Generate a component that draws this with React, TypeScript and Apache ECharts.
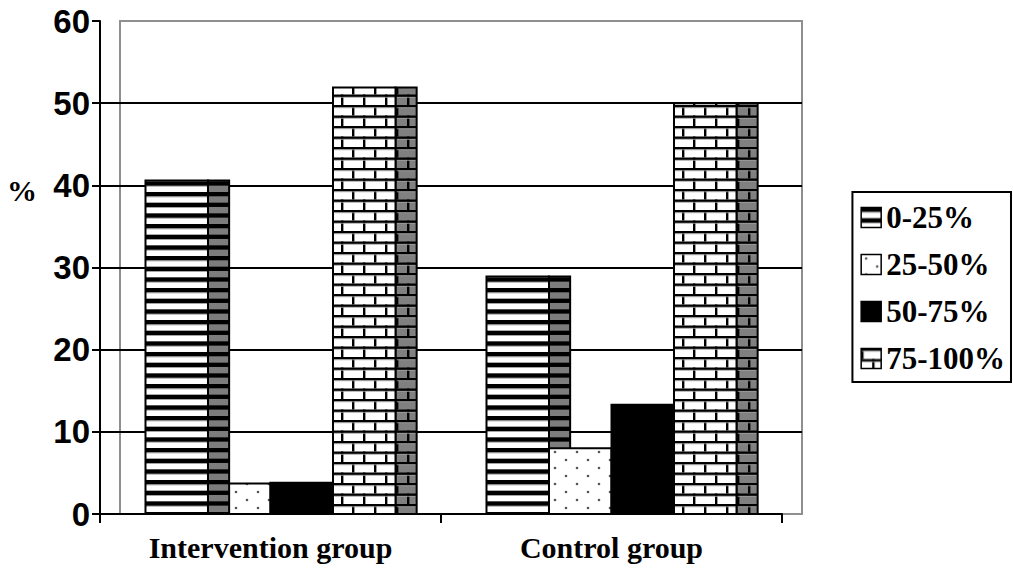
import React, { useEffect, useRef } from "react";
import * as echarts from "echarts";

const categories = ["Intervention group", "Control group"];
const seriesNames = ["0-25%", "25-50%", "50-75%", "75-100%"];
const values0to25 = [40.6, 28.9];
const values25to50 = [3.7, 8.0];
const values50to75 = [3.8, 13.3];
const values75to100 = [51.9, 50.0];
const allValues = [values0to25, values25to50, values50to75, values75to100];
const yMin = 0;
const yMax = 60;
const yInterval = 10;
// whether a taller bar's side face is drawn over the next bar, per category
const SIDE_OVER_NEXT = [true, false];

const SLOT_RATIO = 0.1833;
const DEPTH_RATIO = 0.062;
const SERIF = '"Liberation Serif", "Times New Roman", serif';
const SANS = '"Liberation Sans", Arial, sans-serif';

function makeCanvas(w: number, h: number, draw: (ctx: CanvasRenderingContext2D) => void) {
  const c = document.createElement("canvas");
  c.width = w;
  c.height = h;
  const ctx = c.getContext("2d")!;
  draw(ctx);
  return c;
}

function buildPatterns() {
  const period = 32 / 3;
  const stripeFront = makeCanvas(4, 32, (ctx) => {
    ctx.fillStyle = "#fff";
    ctx.fillRect(0, 0, 4, 32);
    ctx.fillStyle = "#000";
    for (let k = 0; k < 3; k++) ctx.fillRect(0, k * period, 4, 4.5);
    ctx.fillStyle = "#9a9a9a";
    for (let k = 0; k < 3; k++) ctx.fillRect(0, k * period + 4.5, 4, 0.8);
  });
  const stripeSide = makeCanvas(4, 32, (ctx) => {
    ctx.fillStyle = "#7d7d7d";
    ctx.fillRect(0, 0, 4, 32);
    ctx.fillStyle = "#000";
    for (let k = 0; k < 3; k++) ctx.fillRect(0, k * period, 4, 4.3);
  });
  const dots = makeCanvas(22, 16, (ctx) => {
    ctx.fillStyle = "#fff";
    ctx.fillRect(0, 0, 22, 16);
    ctx.fillStyle = "#555";
    ctx.beginPath();
    ctx.arc(5, 4, 1.3, 0, Math.PI * 2);
    ctx.fill();
    ctx.beginPath();
    ctx.arc(16, 12, 1.3, 0, Math.PI * 2);
    ctx.fill();
  });
  const brick = (fill: string) =>
    makeCanvas(22, 21, (ctx) => {
      ctx.fillStyle = fill;
      ctx.fillRect(0, 0, 22, 21);
      ctx.fillStyle = "#000";
      ctx.fillRect(0, 0, 22, 2.4);
      ctx.fillRect(0, 10.5, 22, 2.4);
      ctx.fillRect(0, 0, 2.4, 10.5);
      ctx.fillRect(11, 10.5, 2.4, 10.5);
      ctx.fillStyle = "#a0a0a0";
      ctx.fillRect(0, 2.4, 22, 0.8);
      ctx.fillRect(0, 12.9, 22, 0.8);
    });
  const rp = (c: HTMLCanvasElement) => ({ image: c, repeat: "repeat" as const });
  return {
    fronts: [rp(stripeFront), rp(dots), "#000", rp(brick("#fff"))],
    sides: [rp(stripeSide), rp(dots), "#000", rp(brick("#808080"))],
  };
}

export default function App() {
  const ref = useRef<HTMLDivElement>(null);
  useEffect(() => {
    document.body.style.margin = "0";
    if (!ref.current) return;
    const chart = echarts.init(ref.current, undefined, { renderer: "svg" });
    const { fronts, sides } = buildPatterns();

    const makeRenderItem = (si: number) => (params: any, api: any) => {
      const cat = api.value(0);
      const val = api.value(1);
      const base = api.coord([cat, 0]);
      const top = api.coord([cat, val]);
      const band = api.size([1, 0])[0];
      const slot = band * SLOT_RATIO;
      const depth = band * DEPTH_RATIO;
      const x0 = base[0] - 2 * slot + si * slot;
      const h = base[1] - top[1];
      const next = allValues[si + 1];
      const sideOnTop = SIDE_OVER_NEXT[cat] && next && val > next[cat];
      return {
        type: "group",
        children: [
          {
            type: "rect",
            shape: { x: x0 + slot, y: top[1], width: depth, height: h },
            style: { fill: sides[si], stroke: "#000", lineWidth: 2 },
            z2: sideOnTop ? 5 : 0,
          },
          {
            type: "rect",
            shape: { x: x0, y: top[1], width: slot, height: h },
            style: { fill: fronts[si], stroke: "#000", lineWidth: 2 },
            z2: 1,
          },
        ],
      };
    };

    const option: any = {
      animation: false,
      backgroundColor: "#fff",
      grid: [
        { left: 100, right: 211, top: 21, bottom: 60 },
        {
          left: 120, right: 211, top: 21, bottom: 60,
          show: true, borderColor: "#8f8f8f", borderWidth: 2, backgroundColor: "transparent",
        },
        { left: 100, right: 231, top: 21, bottom: 60 },
      ],
      xAxis: [
        { gridIndex: 0, type: "value", show: false, min: 0, max: 1 },
        { gridIndex: 1, type: "value", show: false, min: 0, max: 1 },
        {
          gridIndex: 2,
          type: "category",
          data: categories,
          axisLine: { show: true, lineStyle: { color: "#000", width: 2 } },
          axisTick: { show: true, length: 9, lineStyle: { color: "#000", width: 2 } },
          axisLabel: {
            margin: 18,
            color: "#000",
            fontFamily: SERIF,
            fontWeight: "bold",
            fontSize: 30,
          },
          splitLine: { show: false },
        },
      ],
      yAxis: [
        {
          gridIndex: 0,
          type: "value",
          min: yMin,
          max: yMax,
          interval: yInterval,
          axisLine: { show: false },
          axisTick: { show: false },
          axisLabel: { show: false },
          splitLine: { show: true, showMinLine: false, showMaxLine: false, lineStyle: { color: "#000", width: 2 } },
        },
        { gridIndex: 1, type: "value", show: false, min: yMin, max: yMax },
        {
          gridIndex: 2,
          type: "value",
          min: yMin,
          max: yMax,
          interval: yInterval,
          axisLine: { show: true, lineStyle: { color: "#000", width: 2 } },
          axisTick: { show: true, length: 8, lineStyle: { color: "#000", width: 2 } },
          axisLabel: {
            margin: 10,
            color: "#000",
            fontFamily: SANS,
            fontWeight: "bold",
            fontSize: 33,
          },
          splitLine: { show: false },
        },
      ],
      legend: {
        orient: "vertical",
        right: 2,
        top: 192,
        padding: [10, 6, 8, 8],
        borderColor: "#000",
        borderWidth: 2,
        itemWidth: 20,
        itemHeight: 20,
        itemGap: 16,
        icon: "rect",
        selectedMode: false,
        textStyle: {
          fontFamily: SERIF,
          fontWeight: "bold",
          fontSize: 31,
          lineHeight: 31,
          color: "#000",
        },
        data: seriesNames.map((n, i) => ({
          name: n,
          itemStyle: { color: fronts[i], borderColor: "#000", borderWidth: 1.5 },
        })),
      },
      graphic: [
        {
          type: "text",
          left: 7,
          top: 175,
          style: { text: "%", font: 'bold 30px "Liberation Serif", serif', fill: "#000" },
        },
      ],
      series: seriesNames.map((name, si) => ({
        name,
        type: "custom",
        xAxisIndex: 2,
        yAxisIndex: 2,
        itemStyle: { color: fronts[si] },
        encode: { x: 0, y: 1 },
        data: allValues[si].map((v, ci) => [ci, v]),
        renderItem: makeRenderItem(si),
      })),
    };
    chart.setOption(option);
    return () => chart.dispose();
  }, []);
  return <div ref={ref} style={{ width: 1013, height: 574 }} />;
}
